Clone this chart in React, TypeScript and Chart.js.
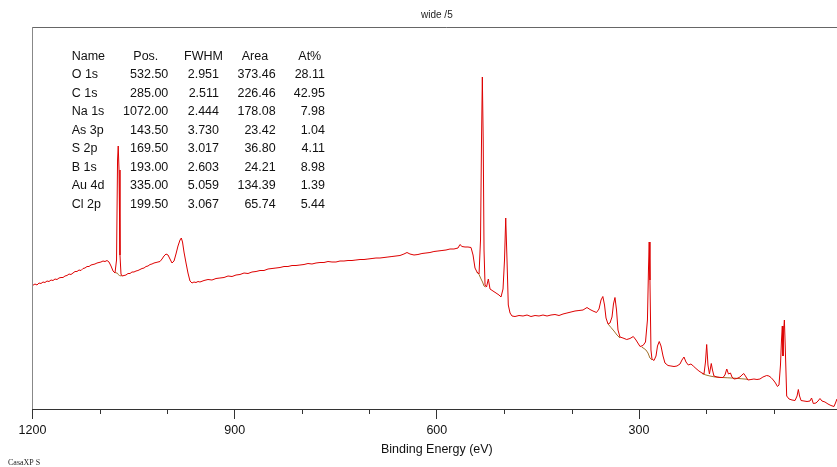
import React, { useEffect, useRef } from 'react';
import { Chart, registerables } from 'chart.js';

Chart.register(...registerables);

// ---- Spectrum (binding energy in eV, intensity in arbitrary counts) ----
const bindingEnergy = [
  1200.0, 1196.3, 1193.3, 1190.4, 1187.4, 1184.4, 1181.5, 1178.5, 1175.5, 1172.5,
  1169.6, 1166.6, 1163.6, 1160.7, 1157.7, 1154.7, 1151.8, 1148.8, 1145.8, 1142.9,
  1139.9, 1136.9, 1134.0, 1131.0, 1128.0, 1125.1, 1122.1, 1119.1, 1116.1, 1113.2,
  1110.2, 1107.3, 1104.3, 1101.3, 1098.4, 1095.4, 1092.4, 1089.4, 1086.5, 1083.5,
  1080.5, 1077.6, 1075.3, 1073.8, 1072.8, 1071.6, 1070.2, 1068.7, 1067.2, 1064.2,
  1061.3, 1058.3, 1055.3, 1052.4, 1049.4, 1046.4, 1043.5, 1040.5, 1037.5, 1034.5,
  1031.6, 1028.6, 1025.6, 1022.7, 1019.7, 1016.7, 1013.8, 1010.8, 1007.8, 1004.9,
  1001.9, 998.9, 996.0, 993.0, 990.0, 987.1, 984.1, 981.1, 979.2, 977.4,
  975.2, 972.2, 969.3, 966.3, 963.3, 960.4, 957.4, 954.4, 951.5, 945.5,
  939.6, 933.7, 927.7, 921.8, 915.8, 909.9, 903.9, 898.0, 892.1, 886.1,
  880.2, 874.3, 868.3, 862.4, 856.5, 850.5, 844.6, 838.7, 832.7, 826.8,
  820.9, 814.9, 809.0, 803.1, 797.1, 791.2, 785.3, 779.3, 773.4, 767.5,
  761.5, 755.6, 749.7, 743.7, 737.8, 731.8, 725.9, 720.0, 714.0, 708.1,
  702.2, 696.2, 690.3, 684.4, 678.4, 672.5, 666.6, 660.6, 654.7, 648.8,
  644.3, 639.9, 633.9, 628.0, 622.1, 616.1, 610.2, 604.3, 598.3, 592.4,
  586.4, 580.5, 574.6, 568.6, 565.7, 562.7, 558.2, 553.8, 549.3, 546.3,
  543.4, 540.4, 537.4, 535.2, 533.7, 532.5, 531.2, 530.0, 528.5, 526.3,
  523.6, 521.1, 516.7, 512.2, 507.8, 504.8, 501.8, 499.6, 497.8, 495.9,
  494.0, 491.4, 488.5, 484.0, 478.1, 472.1, 466.2, 460.3, 454.3, 448.4,
  442.5, 436.5, 430.6, 424.7, 418.7, 412.8, 406.9, 400.9, 395.0, 389.1,
  383.1, 377.2, 372.7, 368.3, 363.1, 359.4, 356.4, 353.7, 351.2, 349.0,
  346.0, 343.1, 340.1, 337.9, 335.7, 333.4, 331.2, 328.3, 323.8, 318.3,
  313.4, 308.5, 304.5, 298.5, 294.1, 290.4, 287.5, 286.0, 284.9, 283.8,
  282.3, 280.8, 277.8, 274.8, 272.6, 270.0, 267.4, 264.4, 261.5, 257.0,
  252.6, 248.1, 243.7, 239.2, 236.3, 233.3, 230.3, 226.9, 222.9, 219.5,
  215.5, 211.1, 206.6, 203.6, 201.4, 199.6, 197.7, 195.5, 192.8, 191.0,
  188.8, 184.3, 179.9, 175.4, 172.5, 169.8, 167.3, 164.3, 162.1, 159.1,
  154.7, 150.2, 147.3, 144.6, 142.1, 138.4, 133.9, 129.5, 125.0, 120.6,
  116.1, 110.6, 107.2, 104.2, 100.8, 97.5, 94.6, 92.3, 90.1, 88.6,
  87.4, 86.4, 85.3, 84.3, 83.1, 80.9, 77.4, 73.0, 68.5, 65.5,
  63.6, 61.8, 59.6, 55.2, 50.7, 46.3, 44.0, 41.4, 37.4, 34.4,
  31.5, 28.5, 24.1, 19.6, 15.2, 10.7, 8.5, 6.3, 4.0, 1.8,
];

const intensity = [
  123.5, 125, 124, 126, 125.5, 127, 126.5, 128, 127.5, 129,
  128.5, 130, 129.5, 131, 131.5, 131.5, 133, 133.5, 135, 134.5,
  136, 137.5, 137.5, 139, 138.5, 140.5, 141, 142.5, 142.5, 144,
  144.5, 145, 146, 146.5, 147, 148, 147.5, 148.5, 147, 143,
  138, 136, 149, 249, 263, 239, 154, 135, 133, 133.5,
  134, 135.5, 135.5, 137, 137, 138, 138.5, 139.5, 140.5, 141,
  142.5, 143, 144.5, 145, 146, 146.5, 147, 147.5, 150, 153,
  155, 154, 150, 146, 148, 155, 163, 169, 171, 167,
  157, 146, 136, 128, 126, 127, 126.5, 127.5, 127, 128.5,
  129.5, 129, 130.5, 131, 131.5, 133, 132.5, 134, 134.5, 136,
  135.5, 137, 137.5, 138.5, 138.5, 140, 140.5, 141, 141.5, 142.5,
  142.5, 143.5, 143.5, 144, 144.5, 145.5, 145, 146, 146.5, 146.5,
  147.5, 147, 147, 148, 148, 148.5, 148.5, 149, 149.5, 149.5,
  150, 150.5, 151, 151, 151.5, 152, 152.5, 153, 153.5, 155,
  156.5, 155, 154, 154.5, 155.5, 156, 156.5, 157.5, 158, 158.5,
  159, 160, 160, 161, 164.5, 162.5, 162, 162, 161.5, 154,
  141, 137, 135, 169, 269, 332, 269, 159, 124, 122,
  130, 120, 118, 116, 114, 112, 120, 149, 191, 149,
  104, 96, 93, 92.5, 93.5, 93, 94, 92.5, 93.5, 93,
  94, 93, 94, 94.5, 93.5, 95, 96, 97, 98, 98.5,
  99, 101.5, 99.5, 98, 96.5, 100, 109, 112.5, 104, 91,
  85, 86, 92, 105, 111.5, 99, 79, 72, 71, 69.5,
  70.5, 72.5, 69, 62.5, 63.5, 67, 89, 139, 167, 129,
  59, 50, 48.5, 53, 63, 67.5, 63, 53, 46, 43.5,
  43, 42.5, 43, 45, 49, 52, 47, 44, 45, 43,
  40.5, 38, 36, 35, 47, 64.5, 44, 35, 45.5, 39,
  33, 32, 31.5, 31.5, 34, 40, 35, 36, 32, 30,
  30.5, 32, 34, 35.5, 33, 29, 29.5, 30, 29.5, 30,
  32, 33.5, 33, 31.5, 29, 26, 22.5, 24, 44, 69,
  83, 53, 79, 89, 64, 13, 10, 9, 8.5, 13,
  19.5, 13, 8.5, 8, 7.5, 8, 11, 5.5, 6, 8,
  10.5, 8, 7, 5, 3.5, 2.5, 6, 10, 11, 9,
];

// ---- Fitted backgrounds (brown) ----
const bgNaE = [1077.1, 1074.0, 1072.8, 1071.0, 1068.2];
const bgNaI = [136.3, 135.8, 134.5, 133.5, 133];
const bgOE = [540.9, 537.4, 534.4, 532.2, 530.0, 527.8];
const bgOI = [137, 134.5, 130, 127, 123, 122];
const bgAuE = [346.0, 341.6, 337.2, 332.7, 328.3];
const bgAuI = [85, 81.5, 78, 74, 71];
const bgCE = [296.1, 292.6, 289.7, 286.7, 283.8, 280.8];
const bgCI = [62, 60.5, 59, 56, 51, 49];
const bgLowE = [206.6, 200.7, 194.8, 187.4, 177.0, 168.1, 157.7, 147.3, 138.4];
const bgLowI = [35.5, 34, 33, 32, 31.5, 31.2, 30.8, 30.2, 29.7];

// ---- Quantification table ----
const tableHeaders = ['Name', 'Pos.', 'FWHM', 'Area', 'At%'];
const peakNames = ['O 1s', 'C 1s', 'Na 1s', 'As 3p', 'S 2p', 'B 1s', 'Au 4d', 'Cl 2p'];
const peakPos = ['532.50', '285.00', '1072.00', '143.50', '169.50', '193.00', '335.00', '199.50'];
const peakFwhm = ['2.951', '2.511', '2.444', '3.730', '3.017', '2.603', '5.059', '3.067'];
const peakArea = ['373.46', '226.46', '178.08', '23.42', '36.80', '24.21', '134.39', '65.74'];
const peakAt = ['28.11', '42.95', '7.98', '1.04', '4.11', '8.98', '1.39', '5.44'];

const xTickValues = [0, 100, 200, 300, 400, 500, 600, 700, 800, 900, 1000, 1100, 1200];

const FONT = "'Liberation Sans', Arial, sans-serif";
const CANVAS_W = 860;
const CANVAS_H = 467;

const zip = (xs: number[], ys: number[]) => xs.map((x, i) => ({ x, y: ys[i] }));

const decorPlugin = {
  id: 'decor',
  afterDraw(chart: any) {
    const { ctx, chartArea: a } = chart;
    const x = chart.scales.x;
    ctx.save();
    // top and left frame
    ctx.lineWidth = 1;
    ctx.strokeStyle = '#666';
    ctx.beginPath();
    ctx.moveTo(a.left, a.top + 0.5);
    ctx.lineTo(chart.width, a.top + 0.5);
    ctx.stroke();
    ctx.strokeStyle = '#888';
    ctx.beginPath();
    ctx.moveTo(a.left, a.top);
    ctx.lineTo(a.left, a.bottom);
    ctx.stroke();
    // minor ticks
    ctx.strokeStyle = '#333';
    xTickValues.forEach((v) => {
      if (v % 300 === 0) return;
      const px = Math.round(x.getPixelForValue(v)) + 0.5;
      ctx.beginPath();
      ctx.moveTo(px, a.bottom);
      ctx.lineTo(px, a.bottom + 5);
      ctx.stroke();
    });
    // table
    ctx.fillStyle = '#111';
    ctx.font = `12.5px ${FONT}`;
    ctx.textBaseline = 'alphabetic';
    const base = 59.5;
    const step = 18.55;
    const headerX = [71.7, 133.3, 184, 241.7, 298.3];
    tableHeaders.forEach((h, i) => {
      ctx.textAlign = 'left';
      ctx.fillText(h, headerX[i], base);
    });
    const rightX = [168.3, 219, 275.7, 325];
    peakNames.forEach((n, r) => {
      const y = base + step * (r + 1);
      ctx.textAlign = 'left';
      ctx.fillText(n, 71.7, y);
      ctx.textAlign = 'right';
      ctx.fillText(peakPos[r], rightX[0], y);
      ctx.fillText(peakFwhm[r], rightX[1], y);
      ctx.fillText(peakArea[r], rightX[2], y);
      ctx.fillText(peakAt[r], rightX[3], y);
    });
    // software label
    ctx.textAlign = 'left';
    ctx.font = "8px 'Liberation Serif', 'Times New Roman', serif";
    ctx.fillStyle = '#222';
    ctx.fillText('CasaXP S', 8, 465);
    ctx.restore();
  },
};

export default function App() {
  const canvasRef = useRef<HTMLCanvasElement | null>(null);

  useEffect(() => {
    if (!canvasRef.current) return;
    const bgStyle = {
      borderColor: '#a0702a',
      borderWidth: 1,
      pointRadius: 0,
      tension: 0,
      fill: false,
    };
    const chart = new Chart(canvasRef.current, {
      type: 'line',
      data: {
        datasets: [
          {
            data: zip(bindingEnergy, intensity),
            borderColor: '#dd0000',
            borderWidth: 1,
            pointRadius: 0,
            tension: 0,
            fill: false,
          },
          { data: zip(bgNaE, bgNaI), ...bgStyle },
          { data: zip(bgOE, bgOI), ...bgStyle },
          { data: zip(bgAuE, bgAuI), ...bgStyle },
          { data: zip(bgCE, bgCI), ...bgStyle },
          { data: zip(bgLowE, bgLowI), ...bgStyle },
        ],
      },
      options: {
        responsive: false,
        animation: false,
        devicePixelRatio: 1,
        parsing: false,
        layout: { padding: { left: 32.5, right: CANVAS_W - 841.2, top: 0, bottom: 10 } },
        plugins: {
          legend: { display: false },
          tooltip: { enabled: false },
          title: {
            display: true,
            text: 'wide /5',
            fullSize: false,
            color: '#222',
            font: { family: FONT, size: 10, weight: 'normal' },
            padding: { top: 9, bottom: 6 },
          },
        },
        scales: {
          x: {
            type: 'linear',
            reverse: true,
            min: 0,
            max: 1200,
            ticks: {
              stepSize: 100,
              autoSkip: false,
              maxRotation: 0,
              padding: 4,
              color: '#111',
              font: { family: FONT, size: 12.5 },
              callback: (v: any) => (Number(v) % 300 === 0 && Number(v) !== 0 ? String(v) : ''),
            },
            grid: {
              drawOnChartArea: false,
              drawTicks: true,
              tickLength: 10,
              tickColor: (c: any) =>
                c.tick && c.tick.value % 300 === 0 ? '#333' : 'rgba(0,0,0,0)',
            },
            border: { display: true, color: '#333', width: 1 },
            title: {
              display: true,
              text: 'Binding Energy (eV)',
              color: '#111',
              font: { family: FONT, size: 12.5 },
              padding: { top: 0, bottom: 0 },
            },
          },
          y: { display: false, min: 0, max: 382 },
        },
      },
      plugins: [decorPlugin],
    } as any);
    return () => chart.destroy();
  }, []);

  return (
    <div
      style={{
        position: 'fixed',
        left: 0,
        top: 0,
        width: 837,
        height: 467,
        overflow: 'hidden',
        background: '#fff',
      }}
    >
      <canvas
        ref={canvasRef}
        width={CANVAS_W}
        height={CANVAS_H}
        style={{ display: 'block', width: CANVAS_W, height: CANVAS_H }}
      />
    </div>
  );
}
